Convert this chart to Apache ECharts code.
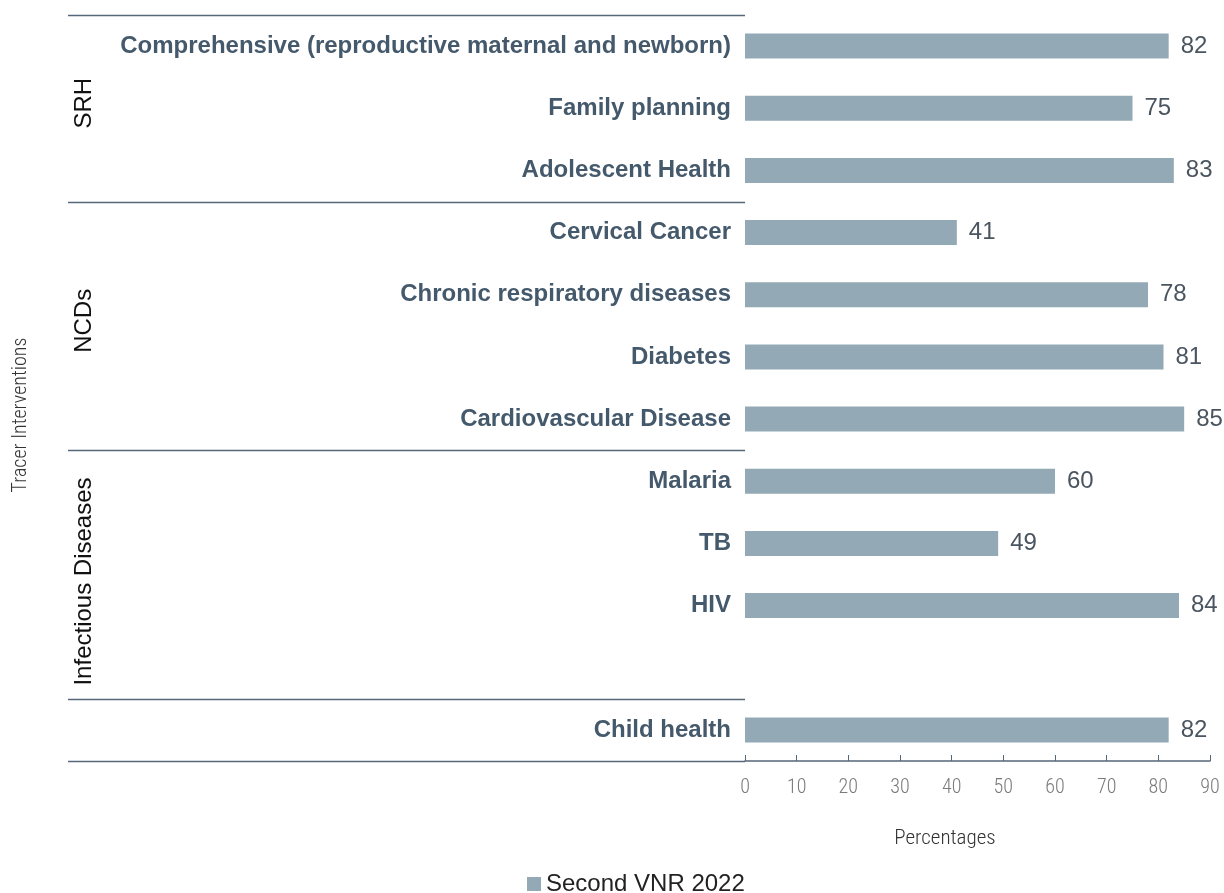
<!DOCTYPE html>
<html>
<head>
<meta charset="utf-8">
<script src="https://cdn.jsdelivr.net/npm/echarts@6/dist/echarts.min.js"></script>
<style>
  html, body { margin: 0; padding: 0; background: #fff; }
  #main { width: 1224px; height: 893px; }
</style>
</head>
<body>
<div id="main"></div>
<script>
// categories top to bottom ('' is the empty slot before Child health)
const categories = [
  'Comprehensive (reproductive maternal and newborn)',
  'Family planning',
  'Adolescent Health',
  'Cervical Cancer',
  'Chronic respiratory diseases',
  'Diabetes',
  'Cardiovascular Disease',
  'Malaria',
  'TB',
  'HIV',
  '',
  'Child health'
]
const values = [82, 75, 83, 41, 78, 81, 85, 60, 49, 84, null, 82]
const seriesName = 'Second VNR 2022'

// groups: name, first index, last index
const groupNames = ['SRH', 'NCDs', 'Infectious Diseases', '']
const groupStart = [0, 3, 7, 11]
const groupEnd = [2, 6, 10, 11]

const xTicks = [0, 10, 20, 30, 40, 50, 60, 70, 80, 90]

const sans = "'Liberation Sans', Arial, sans-serif"
const narrow = "'Roboto Condensed', 'Liberation Sans', sans-serif"
const lineColor = '#56677a'

const chart = echarts.init(document.getElementById('main'))

chart.setOption({
  animation: false,
  grid: { left: 745, right: 14, top: 15, bottom: 132 },
  legend: {
    data: [{ name: seriesName, icon: 'rect' }],
    left: 522,
    top: 867,
    itemWidth: 14,
    itemHeight: 14,
    textStyle: { fontSize: 24, color: '#222', fontFamily: sans }
  },
  xAxis: {
    type: 'value',
    min: xTicks[0],
    max: xTicks[xTicks.length - 1],
    interval: 10,
    splitLine: { show: false },
    axisLine: { show: true, lineStyle: { color: lineColor, width: 1.5 } },
    axisTick: { show: true, inside: true, length: 6, lineStyle: { color: lineColor } },
    axisLabel: { margin: 17, fontSize: 20, fontWeight: 300, color: '#7a7a7a', fontFamily: narrow }
  },
  yAxis: {
    type: 'category',
    inverse: true,
    data: categories,
    axisLine: { show: false },
    axisTick: { show: false },
    axisLabel: {
      margin: 14,
      fontSize: 24,
      fontWeight: 'bold',
      color: '#44596b',
      fontFamily: sans
    }
  },
  series: [{
    name: seriesName,
    type: 'bar',
    data: values,
    barWidth: 25,
    itemStyle: { color: '#93a9b5' },
    label: {
      show: true,
      position: 'right',
      distance: 12,
      fontSize: 24,
      color: '#4a5560',
      fontFamily: sans
    }
  }]
})

// separators and group labels placed from the category scale
const yc0 = chart.convertToPixel({ yAxisIndex: 0 }, 0)
const yc1 = chart.convertToPixel({ yAxisIndex: 0 }, 1)
const band = yc1 - yc0
const edge = (i) => chart.convertToPixel({ yAxisIndex: 0 }, i) - band / 2
const x0 = chart.convertToPixel({ xAxisIndex: 0 }, 0)

// small nudges so group titles sit where the original put them
const groupLabelShift = [-5, -5, 7, 0]

const graphics = []
const boundaries = groupStart.concat([groupEnd[groupEnd.length - 1] + 1])
boundaries.forEach(function (b) {
  const y = Math.round(edge(b)) + 0.5
  graphics.push({
    type: 'line',
    shape: { x1: 68, y1: y, x2: x0, y2: y },
    style: { stroke: lineColor, lineWidth: 1.5 },
    silent: true
  })
})
groupNames.forEach(function (name, g) {
  if (!name) return
  const yMid = (edge(groupStart[g]) + edge(groupEnd[g] + 1)) / 2 + groupLabelShift[g]
  graphics.push({
    type: 'text',
    x: 84,
    y: yMid,
    rotation: Math.PI / 2,
    style: {
      text: name,
      fontSize: 24,
      fill: '#111',
      fontFamily: sans,
      align: 'center',
      verticalAlign: 'middle'
    }
  })
})
graphics.push({
  type: 'text',
  x: 21,
  y: 415,
  rotation: Math.PI / 2,
  style: {
    text: 'Tracer Interventions',
    fontSize: 20,
    fontWeight: 300,
    fill: '#333',
    fontFamily: narrow,
    align: 'center',
    verticalAlign: 'middle'
  }
})
graphics.push({
  type: 'text',
  x: 945,
  y: 839,
  style: {
    text: 'Percentages',
    fontSize: 21,
    fontWeight: 300,
    fill: '#333',
    fontFamily: narrow,
    align: 'center',
    verticalAlign: 'middle'
  }
})
chart.setOption({ graphic: graphics })
</script>
</body>
</html>
